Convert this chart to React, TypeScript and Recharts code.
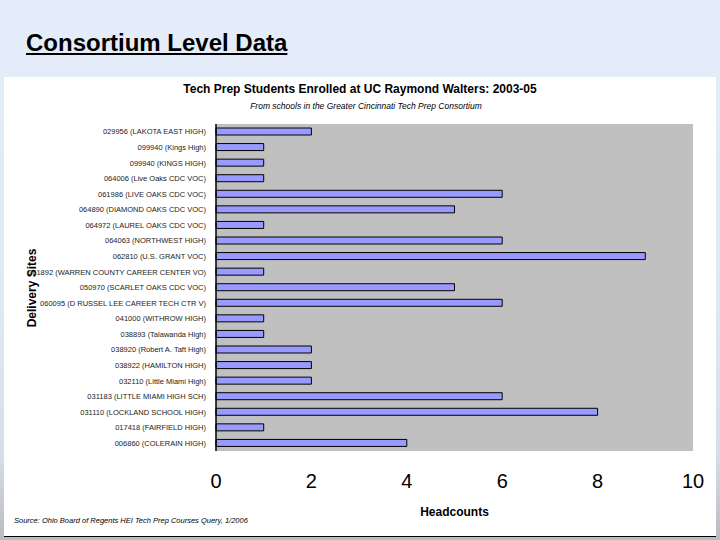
import React from "react";
import { BarChart, Bar, XAxis, YAxis, CartesianGrid } from "recharts";

const sites: string[] = [
  "029956 (LAKOTA EAST HIGH)",
  "099940 (Kings High)",
  "099940 (KINGS HIGH)",
  "064006 (Live Oaks CDC VOC)",
  "061986 (LIVE OAKS CDC VOC)",
  "064890 (DIAMOND OAKS CDC VOC)",
  "064972 (LAUREL OAKS CDC VOC)",
  "064063 (NORTHWEST HIGH)",
  "062810 (U.S. GRANT VOC)",
  "061892 (WARREN COUNTY CAREER CENTER VO)",
  "050970 (SCARLET OAKS CDC VOC)",
  "060095 (D RUSSEL LEE CAREER TECH CTR V)",
  "041000 (WITHROW HIGH)",
  "038893 (Talawanda High)",
  "038920 (Robert A. Taft High)",
  "038922 (HAMILTON HIGH)",
  "032110 (Little Miami High)",
  "031183 (LITTLE MIAMI HIGH SCH)",
  "031110 (LOCKLAND SCHOOL HIGH)",
  "017418 (FAIRFIELD HIGH)",
  "006860 (COLERAIN HIGH)",
];

const headcounts: number[] = [2, 1, 1, 1, 6, 5, 1, 6, 9, 1, 5, 6, 1, 1, 2, 2, 2, 6, 8, 1, 4];

const xTicks: number[] = [0, 2, 4, 6, 8, 10];

const data = sites.map((s, i) => ({ site: s, value: headcounts[i] }));

const FONT = "'Liberation Sans', Arial, Helvetica, sans-serif";

function SiteTick(props: any) {
  const { x, y, payload } = props;
  return (
    <text
      x={x}
      y={y}
      dy="0.35em"
      textAnchor="end"
      fontSize={7.5}
      fill="#222"
      fontFamily={FONT}
    >
      {payload.value}
    </text>
  );
}

export default function App() {
  return (
    <div
      style={{
        position: "absolute",
        left: 0,
        top: 0,
        width: 720,
        height: 540,
        overflow: "hidden",
        fontFamily: FONT,
        background:
          "linear-gradient(to bottom, #e4edf9 0%, #dfe9f6 55%, #d6dde6 85%, #b9bcbf 100%)",
      }}
    >
      <div
        style={{
          position: "absolute",
          left: 26,
          top: 29,
          fontSize: 24,
          lineHeight: "28px",
          fontWeight: "bold",
          textDecoration: "underline",
          color: "#000",
        }}
      >
        Consortium Level Data
      </div>
      <div
        style={{
          position: "absolute",
          left: 4,
          top: 77,
          width: 712,
          height: 459,
          background: "#ffffff",
          borderBottom: "1px solid #000",
        }}
      />
      <div
        style={{
          position: "absolute",
          left: 0,
          top: 82,
          width: 720,
          textAlign: "center",
          fontSize: 12,
          fontWeight: "bold",
          color: "#000",
        }}
      >
        Tech Prep Students Enrolled at UC Raymond Walters: 2003-05
      </div>
      <div
        style={{
          position: "absolute",
          left: 0,
          top: 101,
          width: 732,
          textAlign: "center",
          fontSize: 8.5,
          fontStyle: "italic",
          color: "#000",
        }}
      >
        From schools in the Greater Cincinnati Tech Prep Consortium
      </div>
      <div
        style={{
          position: "absolute",
          left: 32,
          top: 288,
          transform: "translate(-50%, -50%) rotate(-90deg)",
          fontSize: 12,
          fontWeight: "bold",
          whiteSpace: "nowrap",
          color: "#000",
        }}
      >
        Delivery Sites
      </div>
      <div
        style={{
          position: "absolute",
          left: 14,
          top: 516,
          fontSize: 7.5,
          fontStyle: "italic",
          color: "#000",
        }}
      >
        Source: Ohio Board of Regents HEI Tech Prep Courses Query, 1/2006
      </div>
      <div style={{ position: "absolute", left: 0, top: 0 }}>
        <BarChart
          width={720}
          height={540}
          data={data}
          layout="vertical"
          margin={{ top: 124, right: 27, bottom: 19, left: 16 }}
          barCategoryGap={4}
        >
          <CartesianGrid
            fill="#c0c0c0"
            horizontal={false}
            vertical={false}
          />
          <XAxis
            type="number"
            domain={[0, 10]}
            ticks={xTicks}
            axisLine={false}
            tickLine={false}
            tickMargin={17}
            height={70}
            tick={{ fontSize: 20, fill: "#000", fontFamily: FONT }}
            label={{
              value: "Headcounts",
              position: "insideBottom",
              offset: 5,
              style: { fontSize: 12, fontWeight: "bold", fill: "#000", fontFamily: FONT },
            }}
          />
          <YAxis
            type="category"
            dataKey="site"
            width={200}
            interval={0}
            axisLine={{ stroke: "#000", strokeWidth: 1.5 }}
            tickLine={false}
            tickMargin={4}
            tick={<SiteTick />}
          />
          <Bar
            dataKey="value"
            fill="#9999ff"
            stroke="#000"
            strokeWidth={1}
            barSize={7}
            isAnimationActive={false}
          />
        </BarChart>
      </div>
    </div>
  );
}
